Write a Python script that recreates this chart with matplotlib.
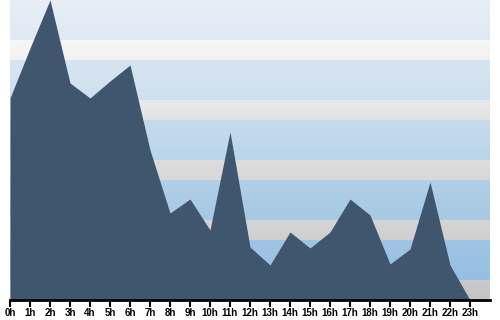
import numpy as np
import matplotlib
matplotlib.use('Agg')
import matplotlib.pyplot as plt
import matplotlib.colors as colors

hours = list(range(24))
hour_labels = [f'{h}h' for h in hours]
values = [202, 252, 300, 217, 202, 219, 235, 150, 87, 101, 70, 168,
          53, 35, 68, 52, 68, 101, 85, 36, 51, 118, 35, 0]

# background bands, top to bottom: (height, top colour, bottom colour)
bands = [
    (40, '#e7eef6', '#e0e9f3'),
    (20, '#f7f7f7', '#f2f2f2'),
    (40, '#d7e5f1', '#cee0ee'),
    (20, '#e9e9e9', '#e3e3e3'),
    (40, '#c5dbec', '#bad5e9'),
    (20, '#dddddd', '#d8d8d8'),
    (40, '#b1cfe7', '#a7c9e4'),
    (20, '#d5d5d5', '#cfcfcf'),
    (40, '#9fc5e5', '#95bfe2'),
    (20, '#cacaca', '#c4c4c4'),
]

fig = plt.figure(figsize=(5, 3.2), dpi=100)
ax = fig.add_axes([10 / 500, 20 / 320, 480 / 500, 300 / 320])

rows = []
for h, top, bot in bands:
    c0 = np.array(colors.to_rgb(top))
    c1 = np.array(colors.to_rgb(bot))
    t = np.linspace(0, 1, h)[:, None]
    rows.append(c0 + (c1 - c0) * t)
grad = np.vstack(rows)[:, None, :]
ax.imshow(grad, extent=[0, 24, 0, 300], aspect='auto', zorder=0, interpolation='nearest')

ax.fill_between(hours, values, 0, color='#40566e', lw=0, zorder=2)

ax.set_xlim(0, 24)
ax.set_ylim(0, 300)
ax.set_xticks(hours)
ax.set_xticklabels(hour_labels, fontfamily='Liberation Sans', fontweight='bold', fontsize=7)
ax.set_yticks([])
for s in ['top', 'left', 'right']:
    ax.spines[s].set_visible(False)
ax.spines['bottom'].set_linewidth(2)
ax.spines['bottom'].set_color('black')
ax.tick_params(axis='x', length=5, width=1.5, pad=1, colors='black')

fig.savefig('out.png', dpi=100)
